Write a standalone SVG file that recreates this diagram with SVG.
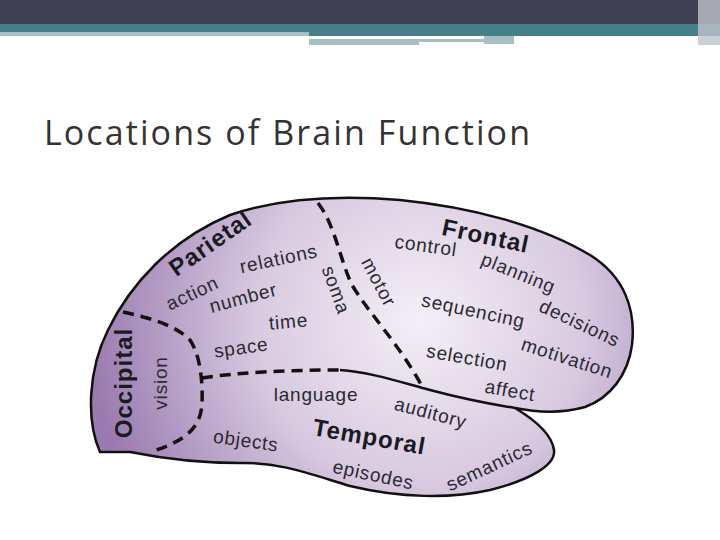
<svg xmlns="http://www.w3.org/2000/svg" width="720" height="540" viewBox="0 0 720 540">
<defs>
<radialGradient id="g" cx="420" cy="320" r="330" gradientUnits="userSpaceOnUse">
<stop offset="0" stop-color="#f4eff6"/><stop offset="0.5" stop-color="#d8c9e0"/><stop offset="1" stop-color="#9a7bb0"/>
</radialGradient>
<style>
.w{font-family:"Liberation Sans",Arial,sans-serif;font-size:19px;letter-spacing:0.8px;fill:#2a2a33;text-anchor:middle}
.b{font-family:"Liberation Sans",Arial,sans-serif;font-size:24px;letter-spacing:1px;font-weight:bold;fill:#1a1a22;text-anchor:middle}
.d{fill:none;stroke:#111;stroke-width:3.5;stroke-dasharray:11 7}
</style>
</defs>
<rect width="720" height="540" fill="#fff"/>
<g id="header">
<rect width="720" height="24" fill="#414155"/>
<rect y="24" width="720" height="8" fill="#45808a"/>
<rect y="32" width="309" height="4" fill="#a5bfc2"/>
<rect x="309" y="32" width="411" height="4" fill="#45808a"/>
<rect x="309" y="39" width="175" height="3" fill="#a5bfc2"/>
<rect x="484" y="36" width="30" height="8" fill="#a5bfc2"/>
<rect x="309" y="42" width="110" height="3" fill="#a5bfc2"/>
<rect x="698" y="0" width="22" height="45" fill="#bfc3c8" opacity="0.8"/>
</g>
<text x="44" y="145" font-family="'Open Sans','DejaVu Sans',sans-serif" font-size="34" fill="#333" textLength="486">Locations of Brain Function</text>
<g id="brain">
<path d="M100,452 C86,420 88,370 108,330 C130,285 170,240 230,215 C280,198 340,195 400,200 C470,207 540,225 590,255 C625,277 636,310 632,345 C628,375 610,398 585,407 C560,414 535,412 515,408 C535,420 552,435 554,450 C556,465 530,480 490,490 C450,499 400,498 350,486 C310,474 280,462 240,463 C200,463 160,458 130,452 Z" fill="url(#g)" stroke="#111" stroke-width="2.5"/>
<path d="M340,370 C370,372 400,382 430,390 C460,398 490,404 515,408" fill="none" stroke="#111" stroke-width="2.5"/>
</g>
<g id="connectors">
<path class="d" d="M318,203 C335,225 340,260 352,285 C370,315 400,345 423,388"/>
<path class="d" d="M123,312 C150,318 175,325 190,340 C200,355 203,380 202,405 C200,425 190,440 150,452"/>
<path class="d" d="M202,378 C240,372 290,370 340,370"/>
</g>
<g id="labels">
<text class="b" transform="translate(215,250) rotate(-35)">Parietal</text>
<text class="w" transform="translate(280,265) rotate(-12)">relations</text>
<text class="w" transform="translate(195,299) rotate(-25)">action</text>
<text class="w" transform="translate(245,304) rotate(-15)">number</text>
<text class="w" transform="translate(289,328) rotate(-5)">time</text>
<text class="w" transform="translate(330,292) rotate(70)">soma</text>
<text class="w" transform="translate(373,285) rotate(62)">motor</text>
<text class="w" transform="translate(242,354) rotate(-8)">space</text>
<text class="b" transform="translate(132,383) rotate(-90)">Occipital</text>
<text class="w" transform="translate(167,383) rotate(-90)">vision</text>
<text class="w" transform="translate(316,401)">language</text>
<text class="b" transform="translate(368,445) rotate(10)">Temporal</text>
<text class="w" transform="translate(245,447) rotate(8)">objects</text>
<text class="w" transform="translate(372,481) rotate(12)">episodes</text>
<text class="w" transform="translate(492,472) rotate(-25)">semantics</text>
<text class="w" transform="translate(429,419) rotate(15)">auditory</text>
<text class="b" transform="translate(484,244) rotate(12)">Frontal</text>
<text class="w" transform="translate(425,252) rotate(8)">control</text>
<text class="w" transform="translate(516,279) rotate(22)">planning</text>
<text class="w" transform="translate(472,317) rotate(12)">sequencing</text>
<text class="w" transform="translate(577,329) rotate(25)">decisions</text>
<text class="w" transform="translate(466,364) rotate(10)">selection</text>
<text class="w" transform="translate(565,364) rotate(18)">motivation</text>
<text class="w" transform="translate(509,397) rotate(10)">affect</text>
</g>
</svg>
